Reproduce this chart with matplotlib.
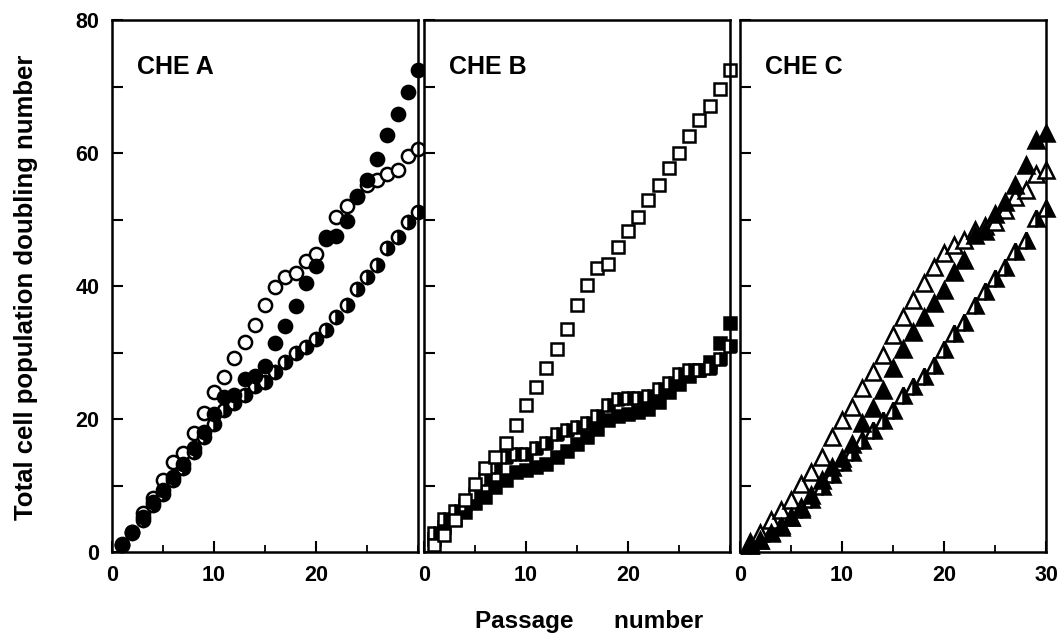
import matplotlib.pyplot as plt
from matplotlib.ticker import MultipleLocator

plt.rcParams['font.family'] = ['Liberation Sans', 'DejaVu Sans']
plt.rcParams['font.weight'] = 'bold'

passage = list(range(1, 31))

# CHE A
a_open = [1.0, 3.0, 5.8, 8.1, 10.8, 13.5, 14.9, 17.9, 20.9, 24.1,
          26.3, 29.2, 31.6, 34.2, 37.2, 39.8, 41.4, 42.0, 43.7, 44.8,
          47.0, 50.4, 52.0, 53.5, 55.2, 55.9, 56.9, 57.5, 59.5, 60.6]
a_filled = [1.2, 3.0, 5.2, 7.5, 9.3, 11.3, 13.2, 15.6, 18.0, 20.8,
            23.3, 23.6, 26.0, 26.4, 28.0, 31.5, 34.0, 37.0, 40.5, 43.0,
            47.3, 47.5, 49.8, 53.4, 56.0, 59.1, 62.7, 65.8, 69.2, 72.5]
a_half = [1.0, 2.8, 4.8, 7.1, 8.8, 10.8, 12.6, 15.1, 17.3, 19.3,
          21.4, 22.4, 23.6, 24.9, 25.6, 27.1, 28.6, 29.9, 30.9, 32.1,
          33.4, 35.4, 37.2, 39.5, 41.4, 43.2, 45.7, 47.4, 49.7, 51.2]

# CHE B
b_open_hi = [1.0, 2.5, 4.8, 7.8, 10.2, 12.6, 14.3, 16.4, 19.1, 22.1,
             24.8, 27.6, 30.5, 33.6, 37.2, 40.1, 42.7, 43.3, 45.9, 48.2,
             50.4, 52.9, 55.2, 57.7, 60.0, 62.6, 64.9, 67.1, 69.6, 72.5]
b_open_lo = [2.8, 5.0, 6.1, 7.0, 8.8, 11.0, 12.8, 14.3, 14.7, 14.8,
             15.6, 16.4, 17.8, 18.3, 18.8, 19.4, 20.4, 22.1, 23.0, 23.1,
             23.1, 23.4, 24.5, 25.4, 26.8, 27.4, 27.4, 27.6, 29.0, 31.0]
b_filled = [2.0, 3.8, 5.0, 6.0, 7.3, 8.3, 9.8, 10.8, 12.0, 12.3,
            12.8, 13.3, 14.3, 15.2, 16.2, 17.3, 18.5, 19.8, 20.5, 20.8,
            21.0, 21.5, 22.5, 24.0, 25.3, 26.5, 27.3, 28.5, 31.5, 34.5]

# CHE C
c_open = [1.5, 2.8, 4.8, 6.3, 7.8, 10.3, 12.1, 14.3, 17.3, 19.8,
          21.8, 24.6, 27.1, 29.6, 32.6, 35.4, 37.9, 40.4, 42.9, 44.9,
          46.2, 46.9, 48.4, 49.0, 49.7, 51.4, 53.4, 54.4, 56.9, 57.4]
c_filled = [1.0, 1.8, 2.8, 3.8, 5.3, 6.8, 8.6, 10.8, 12.8, 14.1,
            16.3, 19.4, 21.6, 24.4, 27.6, 30.6, 33.1, 35.4, 37.4, 39.4,
            42.1, 43.9, 47.7, 48.2, 50.9, 52.7, 55.2, 58.2, 62.0, 63.0]
c_half = [1.0, 1.8, 3.0, 4.0, 5.3, 6.5, 8.0, 10.0, 11.8, 13.5,
          15.0, 16.8, 18.3, 19.8, 21.4, 23.6, 24.9, 26.4, 28.1, 30.6,
          32.9, 34.6, 37.2, 39.2, 41.2, 42.9, 45.2, 46.9, 50.2, 51.7]

panel_titles = ['CHE A', 'CHE B', 'CHE C']
yticks = [0, 10, 20, 30, 40, 50, 60, 70, 80]
ylabels = ['0', '', '20', '', '40', '', '60', '', '80']

fig = plt.figure(figsize=(10.59, 6.41), dpi=100)
lefts = [0.1058, 0.4004, 0.6988]
axes = [fig.add_axes([l, 0.1388, 0.289, 0.83]) for l in lefts]

mk = dict(linestyle='none', markeredgecolor='black', markeredgewidth=1.8, clip_on=False)

ax = axes[0]
ax.plot(passage, a_open, marker='o', markersize=9.5, markerfacecolor='white', **mk)
ax.plot(passage, a_half, marker='o', markersize=9.5, fillstyle='right',
        markerfacecolor='black', markerfacecoloralt='white', **mk)
ax.plot(passage, a_filled, marker='o', markersize=9.5, markerfacecolor='black', **mk)

ax = axes[1]
ax.plot(passage, b_filled, marker='s', markersize=8.5, markerfacecolor='black', **mk)
ax.plot(passage, b_open_lo, marker='s', markersize=8.5, fillstyle='right',
        markerfacecolor='black', markerfacecoloralt='white', **mk)
ax.plot(passage, b_open_hi, marker='s', markersize=8.5, markerfacecolor='white', **mk)

ax = axes[2]
ax.plot(passage, c_half, marker='^', markersize=11, fillstyle='right',
        markerfacecolor='black', markerfacecoloralt='white', **mk)
ax.plot(passage, c_open, marker='^', markersize=11, markerfacecolor='white', **mk)
ax.plot(passage, c_filled, marker='^', markersize=11, markerfacecolor='black', **mk)

for i, ax in enumerate(axes):
    ax.set_xlim(0, 30)
    ax.set_ylim(0, 80)
    for s in ax.spines.values():
        s.set_linewidth(1.8)
    ax.xaxis.set_major_locator(MultipleLocator(10))
    ax.xaxis.set_minor_locator(MultipleLocator(5))
    ax.set_yticks(yticks)
    ax.tick_params(which='major', direction='in', length=8, width=1.5,
                   labelsize=15.5, pad=9)
    ax.tick_params(which='minor', direction='in', length=5, width=1.3)
    ax.tick_params(axis='y', which='both', right=False)
    ax.tick_params(axis='x', which='both', top=False)
    if i == 0:
        ax.set_yticklabels(ylabels, fontweight='bold')
    else:
        ax.set_yticklabels([])
    if i < 2:
        ax.set_xticks([0, 10, 20])
    else:
        ax.set_xticks([0, 10, 20, 30])
    for lab in ax.get_xticklabels():
        lab.set_fontweight('bold')
    ax.text(0.082, 0.898, panel_titles[i], transform=ax.transAxes,
            fontsize=18, fontweight='bold')

fig.text(0.025, 0.552, 'Total cell population doubling number', rotation=90,
         ha='center', va='center', fontsize=18.5, fontweight='bold')
fig.text(0.556, 0.02, 'Passage      number', ha='center', fontsize=17.5,
         fontweight='bold')

fig.savefig('out.png', dpi=100)
